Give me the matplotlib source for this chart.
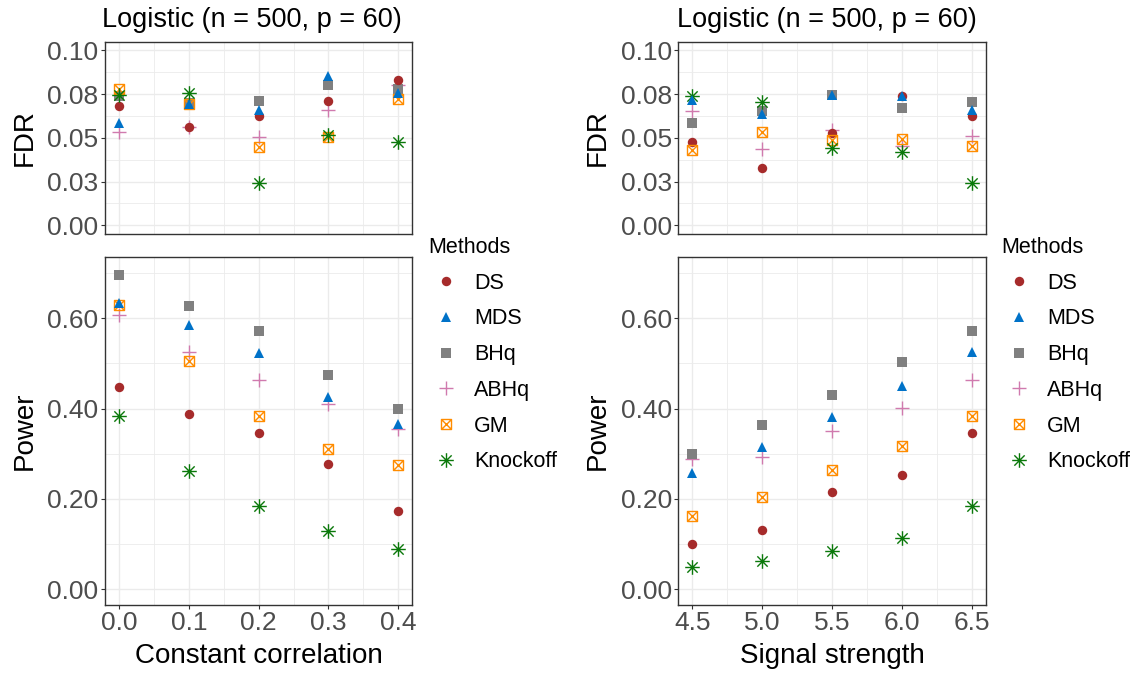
import matplotlib
matplotlib.use("Agg")
import matplotlib.pyplot as plt
from matplotlib.path import Path
import numpy as np

plt.rcParams['font.family'] = ['Liberation Sans', 'DejaVu Sans']

# ---------------- data ----------------
methods = ["DS", "MDS", "BHq", "ABHq", "GM", "Knockoff"]
corr = [0.0, 0.1, 0.2, 0.3, 0.4]
signal = [4.5, 5.0, 5.5, 6.0, 6.5]

fdr_corr_DS = [0.0680, 0.0562, 0.0623, 0.0708, 0.0830]
fdr_corr_MDS = [0.0583, 0.0693, 0.0659, 0.0854, 0.0759]
fdr_corr_BHq = [0.0740, 0.0700, 0.0712, 0.0801, 0.0778]
fdr_corr_ABHq = [0.0532, 0.0562, 0.0504, 0.0661, 0.0803]
fdr_corr_GM = [0.0782, 0.0693, 0.0449, 0.0504, 0.0725]
fdr_corr_Knockoff = [0.0746, 0.0754, 0.0239, 0.0517, 0.0475]

pow_corr_DS = [0.448, 0.388, 0.346, 0.278, 0.173]
pow_corr_MDS = [0.634, 0.586, 0.523, 0.426, 0.365]
pow_corr_BHq = [0.695, 0.628, 0.571, 0.475, 0.399]
pow_corr_ABHq = [0.608, 0.525, 0.463, 0.411, 0.354]
pow_corr_GM = [0.630, 0.506, 0.384, 0.311, 0.276]
pow_corr_Knockoff = [0.384, 0.261, 0.185, 0.128, 0.088]

fdr_sig_DS = [0.0475, 0.0328, 0.0527, 0.0741, 0.0627]
fdr_sig_MDS = [0.0716, 0.0636, 0.0746, 0.0741, 0.0659]
fdr_sig_BHq = [0.0585, 0.0655, 0.0746, 0.0670, 0.0706]
fdr_sig_ABHq = [0.0652, 0.0434, 0.0547, 0.0456, 0.0509]
fdr_sig_GM = [0.0428, 0.0532, 0.0489, 0.0494, 0.0451]
fdr_sig_Knockoff = [0.0741, 0.0703, 0.0441, 0.0419, 0.0239]

pow_sig_DS = [0.101, 0.130, 0.216, 0.252, 0.346]
pow_sig_MDS = [0.258, 0.314, 0.381, 0.451, 0.525]
pow_sig_BHq = [0.300, 0.363, 0.430, 0.504, 0.571]
pow_sig_ABHq = [0.289, 0.292, 0.350, 0.402, 0.463]
pow_sig_GM = [0.163, 0.204, 0.264, 0.318, 0.384]
pow_sig_Knockoff = [0.049, 0.063, 0.084, 0.114, 0.185]

fdr_ticks = [0.0, 0.025, 0.05, 0.075, 0.10]
fdr_ticklabels = ["0.00", "0.03", "0.05", "0.08", "0.10"]
pow_ticks = [0.0, 0.2, 0.4, 0.6]
pow_ticklabels = ["0.00", "0.20", "0.40", "0.60"]
corr_ticklabels = ["0.0", "0.1", "0.2", "0.3", "0.4"]
sig_ticklabels = ["4.5", "5.0", "5.5", "6.0", "6.5"]

title_text = "Logistic (n = 500, p = 60)"

# ---------------- styles ----------------
gm_path = Path([(-1, -1), (1, -1), (1, 1), (-1, 1), (-1, -1), (-1, -1), (1, 1), (-1, 1), (1, -1)],
               [Path.MOVETO, Path.LINETO, Path.LINETO, Path.LINETO, Path.CLOSEPOLY,
                Path.MOVETO, Path.LINETO, Path.MOVETO, Path.LINETO])
r = 0.7071
ast_path = Path([(-1, 0), (1, 0), (0, -1), (0, 1), (-r, -r), (r, r), (-r, r), (r, -r)],
                [Path.MOVETO, Path.LINETO] * 4)

styles = {
    "DS": dict(marker='o', color='#A62B2B', markersize=6.8, markeredgewidth=0),
    "MDS": dict(marker='^', color='#0072C8', markersize=7.6, markeredgewidth=0),
    "BHq": dict(marker='s', color='#808080', markersize=6.8, markeredgewidth=0),
    "ABHq": dict(marker='+', color='#D07AAE', markersize=10.5, markeredgewidth=1.0),
    "GM": dict(marker=gm_path, color='#FF8C00', markersize=7.2, markeredgewidth=1.0,
               markerfacecolor='none'),
    "Knockoff": dict(marker=ast_path, color='#0A780A', markersize=10.5, markeredgewidth=1.0,
                     markerfacecolor='none'),
}
# drawing order (factor levels, alphabetical) -- legend keeps `methods` order
draw_order = sorted(methods, key=str.lower)

W, H = 1140, 673
fig = plt.figure(figsize=(W / 100, H / 100), dpi=100)


def px_axes(x0, y0, x1, y1):
    return fig.add_axes([x0 / W, 1 - y1 / H, (x1 - x0) / W, (y1 - y0) / H])


def style_axes(ax, xticks, xlabels, xminor, xlim, yticks, ylabels, yminor, ylim, show_x):
    ax.set_xlim(*xlim)
    ax.set_ylim(*ylim)
    ax.set_xticks(xticks)
    ax.set_xticks(xminor, minor=True)
    ax.set_yticks(yticks)
    ax.set_yticks(yminor, minor=True)
    ax.set_yticklabels(ylabels)
    if show_x:
        ax.set_xticklabels(xlabels)
    else:
        ax.set_xticklabels([])
    ax.grid(True, which='major', color='#EBEBEB', linewidth=1.0)
    ax.grid(True, which='minor', color='#EBEBEB', linewidth=0.6)
    ax.set_axisbelow(True)
    for s in ax.spines.values():
        s.set_color('#333333')
        s.set_linewidth(1.0)
    ax.tick_params(which='minor', length=0)
    ax.tick_params(axis='y', which='major', length=3.2, width=0.8, color='#333333',
                   labelsize=19, labelcolor='#4D4D4D', pad=1.5)
    ax.tick_params(axis='x', which='major', length=3.2 if show_x else 0, width=0.8,
                   color='#333333', labelsize=19, labelcolor='#4D4D4D', pad=1,
                   labelbottom=show_x)


def draw(ax, x, data):
    series = dict(zip(methods, data))
    handles = {}
    for m in draw_order:
        h, = ax.plot(x, series[m], linestyle='none', label=m, **styles[m])
        handles[m] = h
    return [handles[m] for m in methods]


# panel geometry (pixels)
LX0, LX1 = 105, 412.3
RX0, RX1 = 678.3, 986
TY0, TY1 = 41.7, 234
BY0, BY1 = 257.3, 605

corr_minor = [0.05, 0.15, 0.25, 0.35]
sig_minor = [4.75, 5.25, 5.75, 6.25]
fdr_minor = [0.0125, 0.0375, 0.0625, 0.0875]
pow_minor = [0.1, 0.3, 0.5, 0.7]
fdr_lim = (-0.005, 0.105)
pow_lim = (-0.035, 0.735)
corr_lim = (-0.02, 0.42)
sig_lim = (4.4, 6.6)

ax_tl = px_axes(LX0, TY0, LX1, TY1)
ax_bl = px_axes(LX0, BY0, LX1, BY1)
ax_tr = px_axes(RX0, TY0, RX1, TY1)
ax_br = px_axes(RX0, BY0, RX1, BY1)

style_axes(ax_tl, corr, corr_ticklabels, corr_minor, corr_lim, fdr_ticks, fdr_ticklabels, fdr_minor, fdr_lim, False)
style_axes(ax_bl, corr, corr_ticklabels, corr_minor, corr_lim, pow_ticks, pow_ticklabels, pow_minor, pow_lim, True)
style_axes(ax_tr, signal, sig_ticklabels, sig_minor, sig_lim, fdr_ticks, fdr_ticklabels, fdr_minor, fdr_lim, False)
style_axes(ax_br, signal, sig_ticklabels, sig_minor, sig_lim, pow_ticks, pow_ticklabels, pow_minor, pow_lim, True)

draw(ax_tl, corr, [fdr_corr_DS, fdr_corr_MDS, fdr_corr_BHq, fdr_corr_ABHq, fdr_corr_GM, fdr_corr_Knockoff])
h_left = draw(ax_bl, corr, [pow_corr_DS, pow_corr_MDS, pow_corr_BHq, pow_corr_ABHq, pow_corr_GM, pow_corr_Knockoff])
draw(ax_tr, signal, [fdr_sig_DS, fdr_sig_MDS, fdr_sig_BHq, fdr_sig_ABHq, fdr_sig_GM, fdr_sig_Knockoff])
h_right = draw(ax_br, signal, [pow_sig_DS, pow_sig_MDS, pow_sig_BHq, pow_sig_ABHq, pow_sig_GM, pow_sig_Knockoff])

# axis labels
for ax, lab in [(ax_tl, "FDR"), (ax_bl, "Power"), (ax_tr, "FDR"), (ax_br, "Power")]:
    ax.set_ylabel(lab, fontsize=20, color='black', va='baseline', ha='center', rotation_mode='anchor')
    ax.yaxis.set_label_coords(-0.238, 0.5)
ax_bl.set_xlabel("Constant correlation", fontsize=20, color='black', va='baseline')
ax_bl.xaxis.set_label_coords(0.5, -0.166)
ax_br.set_xlabel("Signal strength", fontsize=20, color='black', va='baseline')
ax_br.xaxis.set_label_coords(0.5, -0.166)

# titles
fig.text(252 / W, 1 - 26.7 / H, title_text, fontsize=19.5, ha='center', va='baseline')
fig.text(827 / W, 1 - 26.7 / H, title_text, fontsize=19.5, ha='center', va='baseline')

# legends
bp = 0.45
for handles, lx in [(h_left, 428), (h_right, 1001)]:
    fs = 15.5
    pad_px = bp * fs * 100 / 72
    leg = fig.legend(handles, methods, title="Methods", loc='upper left',
                     bbox_to_anchor=((lx - pad_px) / W, 1 - (237 - pad_px) / H), frameon=False,
                     fontsize=fs, title_fontsize=fs, alignment='left',
                     labelspacing=0.685, handletextpad=0.5, handlelength=1.65,
                     borderpad=bp, borderaxespad=0)

fig.savefig("out.png", dpi=100, facecolor='white')
